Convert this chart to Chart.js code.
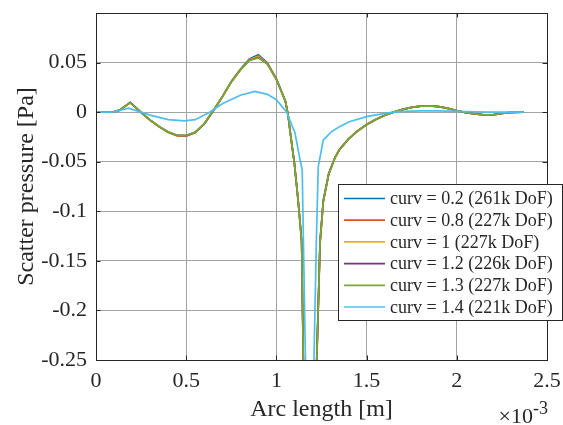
<!DOCTYPE html>
<html>
<head>
<meta charset="utf-8">
<script src="https://cdn.jsdelivr.net/npm/chart.js@4.4.1/dist/chart.umd.min.js"></script>
<style>
  html, body { margin: 0; padding: 0; background: #ffffff; }
  #wrap { width: 563px; height: 425px; position: relative; }
</style>
</head>
<body>
<div id="wrap"><canvas id="c" width="563" height="425"></canvas></div>
<script>
// Arc length in units of 1e-3 m (axis carries the x10^-3 multiplier)
const arcMain = [0, 0.05, 0.10, 0.13, 0.19, 0.245, 0.30, 0.35, 0.40, 0.45, 0.50, 0.55, 0.60, 0.65, 0.70,
  0.75, 0.80, 0.85, 0.90, 0.95, 1.00, 1.05, 1.065, 1.075, 1.10, 1.12, 1.14, 1.15, 1.185, 1.222, 1.242,
  1.26, 1.29, 1.325, 1.35, 1.40, 1.45, 1.50, 1.55, 1.60, 1.65, 1.70, 1.75, 1.80, 1.85, 1.90, 1.95, 2.00,
  2.05, 2.10, 2.15, 2.20, 2.25, 2.30, 2.37];

const arcCurv14 = [0, 0.05, 0.10, 0.18, 0.245, 0.30, 0.40, 0.49, 0.55, 0.63, 0.70, 0.80, 0.88, 0.95, 1.00,
  1.057, 1.103, 1.131, 1.143, 1.162, 1.186, 1.207, 1.222, 1.232, 1.26, 1.306, 1.35, 1.40, 1.50, 1.60,
  1.65, 1.70, 1.80, 1.90, 2.00, 2.10, 2.20, 2.30, 2.37];

// Scatter pressure [Pa]
const pCurv02 = [0, 0, 0.0003, 0.0020, 0.0098, 0.0005, -0.0080, -0.0145, -0.0200, -0.0233, -0.0236, -0.0203,
  -0.0118, 0.0015, 0.0155, 0.0310, 0.0432, 0.0537, 0.0580, 0.0498, 0.0335, 0.0110, -0.0030, -0.0180,
  -0.0520, -0.0880, -0.1300, -0.2620, -0.6000, -0.2580, -0.1300, -0.0890, -0.0620, -0.0455, -0.0375,
  -0.0270, -0.0190, -0.0125, -0.0075, -0.0032, 0.0000, 0.0028, 0.0048, 0.0060, 0.0063, 0.0055, 0.0038,
  0.0015, -0.0005, -0.0018, -0.0027, -0.0028, -0.0012, -0.0002, 0.0000];

const pCurv08 = [0, 0, 0.0003, 0.0020, 0.0097, 0.0004, -0.0082, -0.0148, -0.0204, -0.0239, -0.0242, -0.0207,
  -0.0120, 0.0013, 0.0153, 0.0307, 0.0428, 0.0530, 0.0566, 0.0492, 0.0333, 0.0110, -0.0030, -0.0182,
  -0.0525, -0.0885, -0.1310, -0.2630, -0.6100, -0.2640, -0.1330, -0.0905, -0.0628, -0.0460, -0.0378,
  -0.0272, -0.0191, -0.0126, -0.0076, -0.0033, 0.0000, 0.0028, 0.0048, 0.0060, 0.0063, 0.0055, 0.0038,
  0.0015, -0.0005, -0.0018, -0.0027, -0.0028, -0.0012, -0.0002, 0.0000];

const pCurv10 = [0, 0, 0.0003, 0.0020, 0.0097, 0.0004, -0.0081, -0.0147, -0.0203, -0.0238, -0.0240, -0.0206,
  -0.0119, 0.0014, 0.0153, 0.0306, 0.0427, 0.0528, 0.0562, 0.0490, 0.0332, 0.0110, -0.0030, -0.0181,
  -0.0523, -0.0883, -0.1305, -0.2625, -0.6050, -0.2620, -0.1320, -0.0900, -0.0625, -0.0458, -0.0377,
  -0.0271, -0.0190, -0.0126, -0.0076, -0.0033, 0.0000, 0.0028, 0.0048, 0.0060, 0.0063, 0.0055, 0.0038,
  0.0015, -0.0005, -0.0018, -0.0027, -0.0028, -0.0012, -0.0002, 0.0000];

const pCurv12 = [0, 0, 0.0003, 0.0020, 0.0097, 0.0005, -0.0080, -0.0146, -0.0201, -0.0235, -0.0237, -0.0204,
  -0.0118, 0.0015, 0.0154, 0.0305, 0.0425, 0.0524, 0.0553, 0.0486, 0.0330, 0.0110, -0.0030, -0.0180,
  -0.0520, -0.0880, -0.1300, -0.2620, -0.6000, -0.2600, -0.1310, -0.0895, -0.0622, -0.0456, -0.0376,
  -0.0270, -0.0190, -0.0125, -0.0075, -0.0032, 0.0000, 0.0028, 0.0048, 0.0060, 0.0063, 0.0055, 0.0038,
  0.0015, -0.0005, -0.0018, -0.0027, -0.0028, -0.0012, -0.0002, 0.0000];

const pCurv13 = [0, 0, 0.0003, 0.0020, 0.0097, 0.0005, -0.0079, -0.0144, -0.0199, -0.0233, -0.0235, -0.0202,
  -0.0117, 0.0016, 0.0154, 0.0304, 0.0423, 0.0521, 0.0547, 0.0484, 0.0329, 0.0110, -0.0030, -0.0180,
  -0.0520, -0.0880, -0.1300, -0.2620, -0.6000, -0.2600, -0.1310, -0.0895, -0.0622, -0.0456, -0.0376,
  -0.0270, -0.0190, -0.0125, -0.0075, -0.0032, 0.0000, 0.0028, 0.0048, 0.0060, 0.0063, 0.0055, 0.0038,
  0.0015, -0.0005, -0.0018, -0.0027, -0.0028, -0.0012, -0.0002, 0.0000];

const pCurv14 = [0, 0, 0.0002, 0.0040, 0.0003, -0.0030, -0.0075, -0.0088, -0.0076, 0.0000, 0.0085, 0.0170,
  0.0209, 0.0180, 0.0125, 0.0000, -0.0210, -0.0480, -0.0580, -0.2600, -0.5000, -0.2600, -0.1260, -0.0550,
  -0.0280, -0.0197, -0.0146, -0.0100, -0.0045, -0.0012, 0.0000, 0.0008, 0.0012, 0.0012, 0.0008, 0.0004,
  0.0001, 0.0000, 0.0000];

const seriesLabels = [
  'curv = 0.2 (261k DoF)',
  'curv = 0.8 (227k DoF)',
  'curv = 1 (227k DoF)',
  'curv = 1.2 (226k DoF)',
  'curv = 1.3 (227k DoF)',
  'curv = 1.4 (221k DoF)'
];
const seriesColors = ['#0072BD', '#D95319', '#EDB120', '#7E2F8E', '#77AC30', '#4DBEEE'];

const xTickValues = [0, 0.5, 1, 1.5, 2, 2.5];
const xTickLabels = ['0', '0.5', '1', '1.5', '2', '2.5'];
const yTickValues = [-0.25, -0.2, -0.15, -0.1, -0.05, 0, 0.05];
const yTickLabels = ['-0.25', '-0.2', '-0.15', '-0.1', '-0.05', '0', '0.05'];

const FONT = "'Liberation Serif', 'Times New Roman', serif";
const INK = '#262626';
const GRID = '#a3a3a3';

function toPoints(xs, ys) {
  return xs.map((x, i) => ({ x: x, y: ys[i] }));
}

const seriesX = [arcMain, arcMain, arcMain, arcMain, arcMain, arcCurv14];
const seriesY = [pCurv02, pCurv08, pCurv10, pCurv12, pCurv13, pCurv14];

const datasets = seriesLabels.map((label, i) => ({
  label: label,
  data: toPoints(seriesX[i], seriesY[i]),
  borderColor: seriesColors[i],
  backgroundColor: seriesColors[i],
  borderWidth: 1.7,
  pointRadius: 0,
  showLine: true,
  tension: 0,
  fill: false,
  order: seriesLabels.length - 1 - i   // later series drawn on top
}));

// Frame around the plot area with inward tick marks on all four sides
const frameAndTicks = {
  id: 'frameAndTicks',
  afterDatasetsDraw(chart) {
    const { ctx, chartArea: a, scales } = chart;
    const len = 4.5;
    ctx.save();
    ctx.strokeStyle = INK;
    ctx.lineWidth = 1;
    ctx.beginPath();
    xTickValues.forEach(v => {
      const px = Math.round(scales.x.getPixelForValue(v)) + 0.5;
      ctx.moveTo(px, a.bottom); ctx.lineTo(px, a.bottom - len);
      ctx.moveTo(px, a.top); ctx.lineTo(px, a.top + len);
    });
    yTickValues.forEach(v => {
      const py = Math.round(scales.y.getPixelForValue(v)) + 0.5;
      ctx.moveTo(a.left, py); ctx.lineTo(a.left + len, py);
      ctx.moveTo(a.right, py); ctx.lineTo(a.right - len, py);
    });
    ctx.stroke();
    ctx.strokeRect(Math.round(a.left) + 0.5, Math.round(a.top) + 0.5,
      Math.round(a.right - a.left), Math.round(a.bottom - a.top));
    ctx.restore();
  }
};

// Exponent label under the right end of the x axis
const xExponent = {
  id: 'xExponent',
  afterDraw(chart) {
    const { ctx, chartArea: a } = chart;
    ctx.save();
    ctx.fillStyle = INK;
    ctx.textBaseline = 'alphabetic';
    ctx.textAlign = 'right';
    ctx.font = '18px ' + FONT;
    const sup = '-3';
    const supW = ctx.measureText(sup).width;
    ctx.fillText(sup, a.right + 1, 414);
    ctx.font = '22px ' + FONT;
    ctx.fillText('\u00D710', a.right + 1 - supW, 423);
    ctx.restore();
  }
};

// Boxed legend placed over the lower right of the plot
const boxLegend = {
  id: 'boxLegend',
  afterDraw(chart) {
    const { ctx } = chart;
    const left = 338, top = 184, width = 224, height = 136;
    const rowH = 21.7, firstRow = top + 14.5;
    ctx.save();
    ctx.fillStyle = '#ffffff';
    ctx.fillRect(left, top, width, height);
    ctx.strokeStyle = INK;
    ctx.lineWidth = 1;
    ctx.strokeRect(left + 0.5, top + 0.5, width, height);
    ctx.font = '18px ' + FONT;
    ctx.textBaseline = 'middle';
    ctx.textAlign = 'left';
    chart.data.datasets.forEach((ds, i) => {
      const y = firstRow + i * rowH;
      ctx.strokeStyle = ds.borderColor;
      ctx.lineWidth = 1.7;
      ctx.beginPath();
      ctx.moveTo(344, y);
      ctx.lineTo(385, y);
      ctx.stroke();
      ctx.fillStyle = INK;
      ctx.fillText(ds.label, 390, y + 1);
    });
    ctx.restore();
  }
};

new Chart(document.getElementById('c'), {
  type: 'scatter',
  data: { datasets: datasets },
  plugins: [frameAndTicks, boxLegend, xExponent],
  options: {
    responsive: false,
    animation: false,
    devicePixelRatio: 1,
    layout: { padding: { top: 13, right: 16, left: 0, bottom: 0 } },
    plugins: {
      legend: { display: false },
      tooltip: { enabled: false }
    },
    scales: {
      x: {
        type: 'linear',
        min: 0,
        max: 2.5,
        afterBuildTicks: s => { s.ticks = xTickValues.map(v => ({ value: v })); },
        afterFit: s => { s.height = 65; s.paddingLeft = 0; s.paddingRight = 0; },
        ticks: {
          autoSkip: false,
          maxRotation: 0,
          padding: 8,
          color: INK,
          font: { family: FONT, size: 22 },
          callback: (v, i) => xTickLabels[i]
        },
        grid: { color: GRID, lineWidth: 1, drawTicks: false },
        border: { display: true, color: INK, width: 1 },
        title: {
          display: true,
          text: 'Arc length [m]',
          color: INK,
          font: { family: FONT, size: 24 },
          padding: { top: 0, bottom: 1 }
        }
      },
      y: {
        type: 'linear',
        min: -0.25,
        max: 0.1,
        afterBuildTicks: s => { s.ticks = yTickValues.map(v => ({ value: v })); },
        afterFit: s => { s.width = 96; s.paddingTop = 0; s.paddingBottom = 0; },
        ticks: {
          autoSkip: false,
          padding: 9,
          color: INK,
          font: { family: FONT, size: 22 },
          callback: (v, i) => yTickLabels[i]
        },
        grid: { color: GRID, lineWidth: 1, drawTicks: false },
        border: { display: true, color: INK, width: 1 },
        title: {
          display: true,
          text: 'Scatter pressure [Pa]',
          color: INK,
          font: { family: FONT, size: 24 },
          padding: { top: 12, bottom: 0 }
        }
      }
    }
  }
});
</script>
</body>
</html>
